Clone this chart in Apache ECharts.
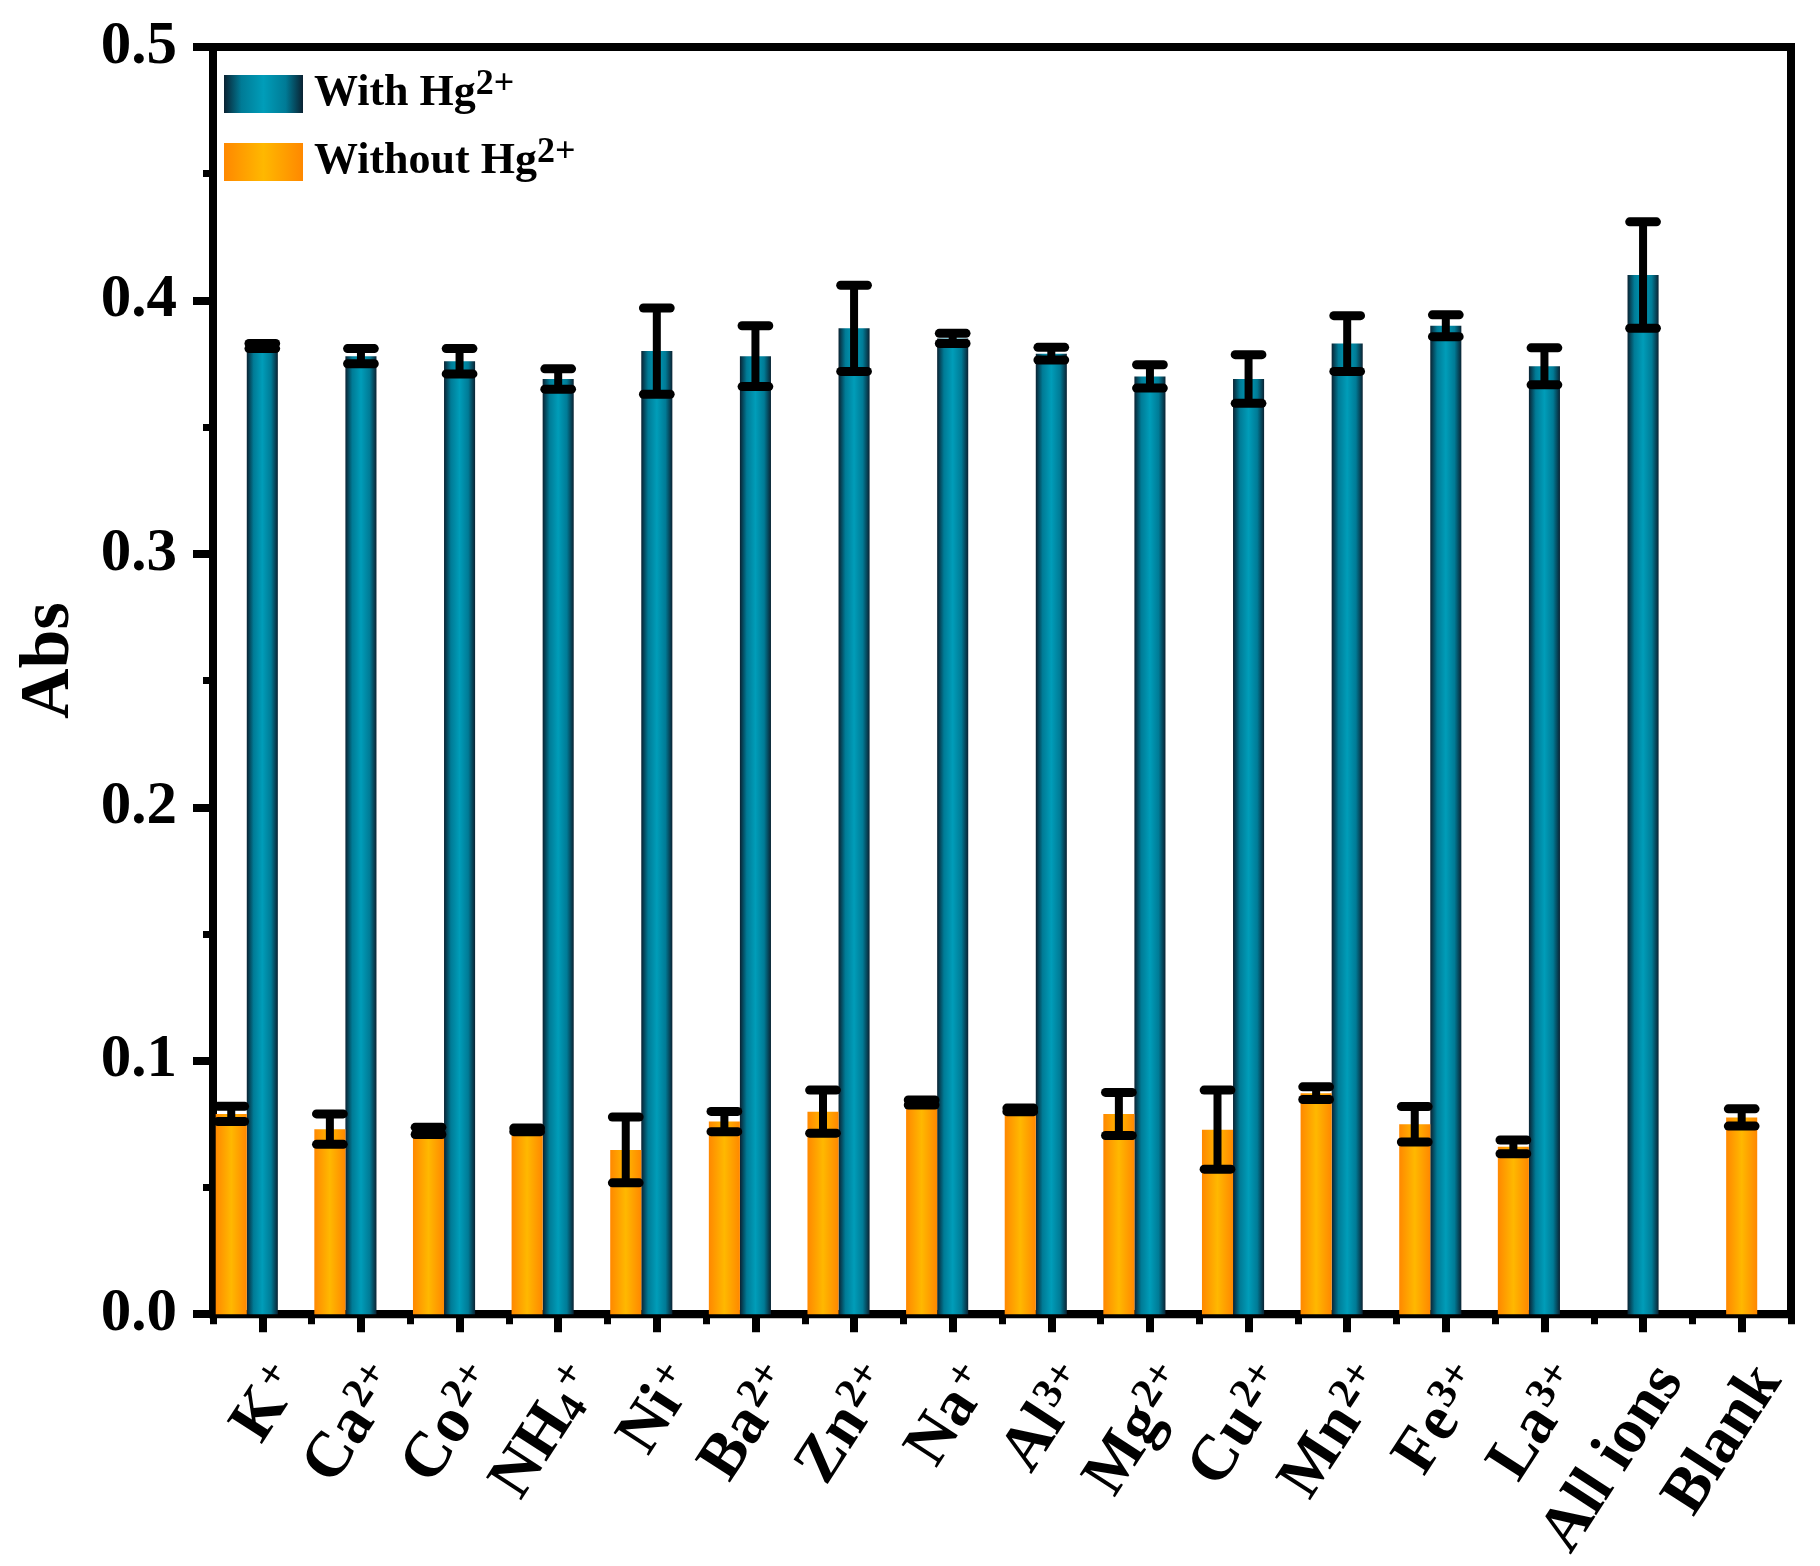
<!DOCTYPE html>
<html><head><meta charset="utf-8">
<script src="https://cdn.jsdelivr.net/npm/echarts@6/dist/echarts.min.js"></script>
<style>html,body{margin:0;padding:0;background:#fff}#c{width:1820px;height:1566px}</style>
</head><body><div id="c"></div>
<script>
const categories = ['K+','Ca2+','Co2+','NH4+','Ni+','Ba2+','Zn2+','Na+','Al3+','Mg2+','Cu2+','Mn2+','Fe3+','La3+','All ions','Blank'];
const categoryLabels = ['K{sup|+}','Ca{sup|2+}','Co{sup|2+}','NH{sub|4}{sup|+}','Ni{sup|+}','Ba{sup|2+}','Zn{sup|2+}','Na{sup|+}','Al{sup|3+}','Mg{sup|2+}','Cu{sup|2+}','Mn{sup|2+}','Fe{sup|3+}','La{sup|3+}','All ions','Blank'];
const withHg      = [0.382, 0.378, 0.376, 0.369, 0.380, 0.378, 0.389, 0.385, 0.379, 0.370, 0.369, 0.383, 0.390, 0.374, 0.410, null];
const withHgErr   = [0.001, 0.003, 0.005, 0.004, 0.017, 0.012, 0.017, 0.002, 0.0025, 0.0046, 0.0096, 0.011, 0.0043, 0.0073, 0.021, null];
const withoutHg   = [0.079, 0.073, 0.0723, 0.0727, 0.0648, 0.076, 0.0799, 0.0835, 0.0806, 0.079, 0.0728, 0.0872, 0.0749, 0.066, null, 0.0776];
const withoutHgErr= [0.003, 0.006, 0.0014, 0.0007, 0.013, 0.004, 0.0085, 0.001, 0.0007, 0.0085, 0.0156, 0.0025, 0.007, 0.0027, null, 0.0034];
const yTicks = [0, 0.1, 0.2, 0.3, 0.4, 0.5];

const FONT = '"Liberation Serif", "Times New Roman", serif';
const BAR_FRAC = 0.315;
const tealGrad = () => new echarts.graphic.LinearGradient(0,0,1,0,[
  {offset:0,color:'#0a2232'},{offset:0.22,color:'#007b96'},{offset:0.5,color:'#009db9'},{offset:0.78,color:'#007b96'},{offset:1,color:'#0a2232'}]);
const orangeGrad = () => new echarts.graphic.LinearGradient(0,0,1,0,[
  {offset:0,color:'#ff8800'},{offset:0.5,color:'#ffb800'},{offset:1,color:'#ff8800'}]);

function buildData(vals, errs){
  const d = [];
  vals.forEach((v,i)=>{ if (v!=null) d.push([i, v, errs[i]]); });
  return d;
}

function makeRender(kind){
  return function(params, api){
    const i = api.value(0), v = api.value(1), e = api.value(2);
    const base = api.coord([i, 0]);
    const band = api.size([1, 0])[0];
    const w = band * BAR_FRAC;
    let cx = base[0];
    if (kind === 'without' && withHg[i] != null) cx = base[0] - w;
    const top = api.coord([i, v]);
    const hi = api.coord([i, v + e]);
    const lo = api.coord([i, v - e]);
    const cw = w * 0.86;
    const eb = {stroke:'#000', lineWidth:9, lineCap:'round'};
    return {
      type:'group',
      children:[
        {type:'rect', shape:{x:cx - w/2, y:top[1], width:w, height:base[1]-top[1]},
         style:{fill: kind==='with' ? tealGrad() : orangeGrad()}},
        {type:'line', shape:{x1:cx, y1:hi[1], x2:cx, y2:lo[1]}, style:{stroke:'#000', lineWidth:8}, z2:10},
        {type:'line', shape:{x1:cx - cw/2, y1:hi[1], x2:cx + cw/2, y2:hi[1]}, style:eb, z2:10},
        {type:'line', shape:{x1:cx - cw/2, y1:lo[1], x2:cx + cw/2, y2:lo[1]}, style:eb, z2:10}
      ]
    };
  };
}

const labelRich = {
  sup:{fontFamily:FONT, fontWeight:'bold', fontSize:42, lineHeight:36, verticalAlign:'top', color:'#000', padding:[0,0,0,3]},
  sub:{fontFamily:FONT, fontWeight:'bold', fontSize:42, lineHeight:40, verticalAlign:'bottom', color:'#000'}
};

const chart = echarts.init(document.getElementById('c'));
chart.setOption({
  animation:false,
  backgroundColor:'#fff',
  grid:{left:213, right:29, top:47, bottom:251, show:true, borderColor:'#000', borderWidth:8, backgroundColor:'transparent'},
  legend:{
    left:219, top:62, orient:'vertical', itemWidth:79, itemHeight:38, itemGap:14, icon:'rect',
    data:['With Hg2+','Without Hg2+'],
    formatter: n => n.replace('2+','{sup|2+}'),
    textStyle:{fontFamily:FONT, fontWeight:'bold', fontSize:44, color:'#000', lineHeight:54, padding:[0,0,0,6],
      rich:{sup:{fontFamily:FONT, fontWeight:'bold', fontSize:36, lineHeight:32, verticalAlign:'top', color:'#000'}}}
  },
  xAxis:[{
    type:'category', data:categories, position:'bottom',
    axisLine:{show:true, lineStyle:{color:'#000', width:8}},
    axisTick:{show:true, alignWithLabel:true, length:18, lineStyle:{color:'#000', width:8}},
    axisLabel:{
      interval:0, rotate:57, margin:40, color:'#000', verticalAlign:'top',
      fontFamily:FONT, fontWeight:'bold', fontSize:64, lineHeight:64,
      formatter:(val, idx) => categoryLabels[idx],
      rich:labelRich
    },
    splitLine:{show:false}
  },{
    type:'category', data:categories, position:'bottom',
    axisLine:{show:false},
    axisTick:{show:true, length:10, lineStyle:{color:'#000', width:7}},
    axisLabel:{show:false}, splitLine:{show:false}
  }],
  yAxis:{
    type:'value', min:0, max:0.5, interval:0.1,
    name:'Abs', nameLocation:'middle', nameGap:128, nameRotate:90,
    nameTextStyle:{fontFamily:FONT, fontWeight:'bold', fontSize:70, color:'#000', padding:[0,0,0,40]},
    axisLine:{show:true, lineStyle:{color:'#000', width:8}},
    axisTick:{show:true, length:20, lineStyle:{color:'#000', width:8}},
    minorTick:{show:true, splitNumber:2, length:10, lineStyle:{color:'#000', width:7}},
    axisLabel:{fontFamily:FONT, fontWeight:'bold', fontSize:61, color:'#000', margin:36,
      formatter: v => (yTicks.indexOf(+v.toFixed(1))>=0 ? v.toFixed(1) : '')},
    splitLine:{show:false}
  },
  series:[{
    name:'With Hg2+', type:'custom', renderItem:makeRender('with'),
    itemStyle:{color:tealGrad()}, encode:{x:0, y:1},
    data:buildData(withHg, withHgErr), z:2
  },{
    name:'Without Hg2+', type:'custom', renderItem:makeRender('without'),
    itemStyle:{color:orangeGrad()}, encode:{x:0, y:1},
    data:buildData(withoutHg, withoutHgErr), z:3
  }]
});
</script></body></html>
